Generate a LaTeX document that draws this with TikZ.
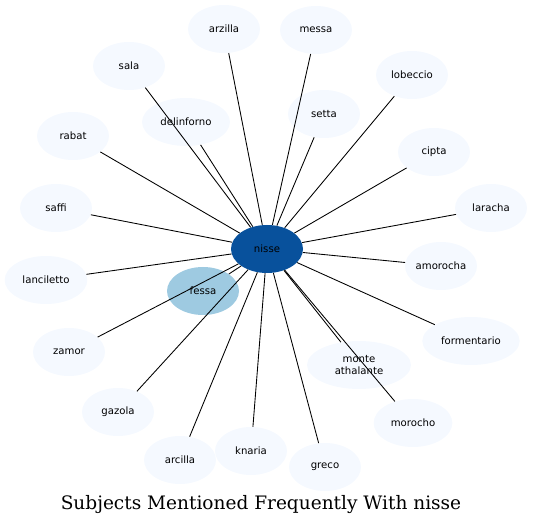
\documentclass[tikz,border=0pt]{standalone}
\usepackage{fontspec}
\setsansfont{DejaVu Sans}
\newfontfamily\titlefont{DejaVu Serif}
\usetikzlibrary{shapes.geometric}
\definecolor{leafblue}{HTML}{F5F9FF}
\definecolor{hubblue}{HTML}{08519C}
\definecolor{midblue}{HTML}{9ECAE1}
\tikzset{
  word/.style={shape=ellipse,draw=none,fill=leafblue,inner sep=0pt,
    minimum width=54pt,minimum height=36pt,align=center,
    font=\sffamily\fontsize{7.6}{9}\selectfont},
  hub/.style={word,fill=hubblue},
  near/.style={word,fill=midblue},
  link/.style={black,line width=0.65pt}
}
\begin{document}
\begin{tikzpicture}[x=0.75pt,y=-0.75pt]
    \useasboundingbox (0,0) rectangle (533,527);
    \node[hub] (nisse) at (267,249) {nisse};
    \node[word] (arzilla) at (224,29) {arzilla};
    \node[word] (messa) at (316,30) {messa};
    \node[word] (sala) at (129,66) {sala};
    \node[word] (lobeccio) at (412,75) {lobeccio};
    \node[word,minimum width=66pt] (delinforno) at (186,122) {delinforno};
    \node[word] (setta) at (324,114) {setta};
    \node[word] (rabat) at (73,136) {rabat};
    \node[word] (cipta) at (434,152) {cipta};
    \node[word] (saffi) at (56,208) {saffi};
    \node[word] (laracha) at (491,208) {laracha};
    \node[word,minimum width=62pt] (lanciletto) at (46,280) {lanciletto};
    \node[word] (amorocha) at (441,266) {amorocha};
    \node[word] (zamor) at (69,352) {zamor};
    \node[word,minimum width=73pt] (formentario) at (471,341) {formentario};
    \node[word,minimum width=78pt] (monte) at (359,365) {monte\\athalante};
    \node[word] (gazola) at (118,412) {gazola};
    \node[word,minimum width=59pt] (morocho) at (413,423) {morocho};
    \node[word] (arcilla) at (180,460) {arcilla};
    \node[word] (knaria) at (251,451) {knaria};
    \node[word] (greco) at (325,467) {greco};
    \node[near] (fessa) at (203,291) {fessa};
    % edges from the hub
    \path [link] (nisse) edge (sala) (nisse) edge (delinforno)
      (nisse) edge (arzilla) (nisse) edge (messa) (nisse) edge (setta)
      (nisse) edge (lobeccio) (nisse) edge (cipta) (nisse) edge (laracha)
      (nisse) edge (amorocha) (nisse) edge (formentario)
      (nisse) edge (monte) (nisse) edge (morocho)
      (nisse) edge (greco) (nisse) edge (knaria) (nisse) edge (arcilla)
      (nisse) edge (gazola) (nisse) edge (zamor) (nisse) edge (fessa)
      (nisse) edge (lanciletto) (nisse) edge (saffi) (nisse) edge (rabat);
    \node[font=\titlefont\fontsize{13.9}{16}\selectfont] (title) at (261,505) {Subjects Mentioned Frequently With nisse};
\end{tikzpicture}
\end{document}
